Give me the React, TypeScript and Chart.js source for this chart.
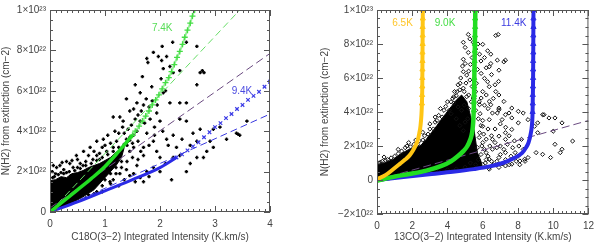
import React, { useEffect, useRef } from 'react';
import { Chart, registerables } from 'chart.js';
Chart.register(...registerables);

type P = [number, number];

// ---------- LEFT PANEL (C18O) : x in K.km/s, y in 1e22 cm-2 ----------
const leftXTicks = [0, 1, 2, 3, 4];
const leftYTicks = [0, 2, 4, 6, 8, 10];
const leftBlob: P[] = [
  [0, 0], [0, 1.55], [0.1, 1.6], [0.2, 1.75], [0.3, 1.7], [0.4, 1.9], [0.5, 1.95], [0.6, 2.05],
  [0.7, 2.2], [0.8, 2.3], [0.9, 2.4], [1.0, 2.55], [1.1, 2.7], [1.2, 2.95], [1.3, 3.1], [1.35, 3.2],
  [1.3, 2.7], [1.2, 2.3], [1.0, 1.7], [0.8, 1.1], [0.6, 0.75], [0.4, 0.45], [0.2, 0.2], [0, 0],
];
const leftScatter: P[] = [
  [2.04, 8.2], [2.23, 8.4], [2.48, 8.4], [2.67, 8.2], [1.88, 7.9], [1.76, 7.6], [1.78, 7.4], [1.97, 7.7],
  [2.03, 7.5], [2.12, 7.7], [2.18, 7.2], [2.06, 7.1], [2.24, 6.9], [2.36, 7.0], [2.73, 6.9], [2.77, 7.0],
  [2.8, 6.9], [2.67, 6.3], [1.55, 6.3], [1.64, 5.9], [1.39, 5.6], [1.85, 6.2], [2.06, 5.9], [2.18, 5.4],
  [2.36, 5.4], [2.48, 5.4], [1.7, 5.3], [1.94, 4.9], [1.52, 5.1], [1.15, 4.7], [1.27, 4.7], [1.33, 4.5],
  [1.64, 4.5], [1.82, 4.6], [2.0, 4.5], [2.36, 4.6], [2.48, 4.5], [2.73, 4.1], [2.97, 4.1], [3.09, 4.2],
  [3.45, 3.8], [3.58, 4.5], [3.21, 3.6], [2.91, 3.5], [2.67, 3.5], [2.24, 3.8], [2.12, 3.6], [1.88, 3.5],
  [1.76, 3.9], [1.52, 3.8], [1.39, 3.6], [1.21, 3.5], [0.97, 3.6], [0.85, 3.5], [0.73, 3.2], [0.61, 3.0],
  [0.48, 2.8], [0.3, 2.5], [0.18, 2.3], [0.06, 2.3], [0.12, 2.2], [1.03, 3.0], [0.85, 2.8], [1.15, 3.2],
  [1.52, 3.2], [1.7, 3.2], [1.94, 3.0], [2.0, 2.7], [2.24, 2.7], [2.36, 2.8], [2.55, 2.4], [2.48, 2.0],
  [2.21, 1.6], [1.7, 1.5], [1.88, 2.2], [1.58, 2.3], [1.39, 2.1], [1.27, 1.9], [1.15, 1.6], [1.09, 1.5],
  [1.52, 1.9], [1.64, 1.7], [1.76, 2.0], [2.97, 3.2], [3.39, 3.9], [3.42, 3.85], [2.85, 3.0], [2.79, 2.7],
  [2.67, 2.7], [1.35, 3.9], [1.42, 4.1], [1.45, 3.7], [1.48, 4.3], [1.55, 4.6], [1.58, 4.0], [1.6, 4.8],
  [1.66, 5.0], [1.72, 4.4], [1.75, 5.6], [1.8, 5.2], [1.86, 5.5], [1.9, 4.2], [1.95, 5.3], [2.02, 6.6],
  [2.1, 6.0], [1.68, 6.7], [1.58, 5.4], [1.45, 5.0], [1.32, 4.2], [1.25, 3.9], [1.18, 4.0], [1.1, 3.4],
  [1.05, 3.8], [0.95, 3.2], [0.9, 2.9], [0.78, 2.6], [0.7, 2.8], [0.65, 2.5], [0.55, 2.4], [0.42, 2.2],
  [0.36, 2.4], [0.25, 2.1], [0.2, 1.95], [0.1, 1.9], [0.04, 2.0], [1.4, 3.3], [1.45, 3.0], [1.6, 3.5],
  [1.65, 3.0], [1.8, 3.3], [1.9, 3.8], [2.05, 4.0], [2.15, 3.3], [2.3, 3.2], [2.4, 3.6], [2.6, 3.9],
  [2.55, 3.3], [1.3, 2.5], [1.2, 2.2], [1.1, 1.9], [1.0, 1.6], [0.95, 1.3], [1.35, 1.6], [1.45, 1.8],
  [1.55, 1.5], [1.8, 1.75], [2.0, 2.0], [2.1, 2.4], [1.25, 1.3], [0.85, 1.0], [0.7, 0.85], [0.9, 1.6],
  [0.75, 1.3], [0.5, 2.6], [0.8, 3.0], [1.0, 3.3], [0.22, 2.45], [0.4, 2.55],
  [0.05, 1.7], [0.15, 1.85], [0.25, 1.9], [0.35, 2.0], [0.45, 2.05], [0.55, 2.15], [0.65, 2.3], [0.75, 2.4],
  [0.85, 2.55], [0.95, 2.7], [1.05, 2.85], [1.15, 3.0], [1.25, 3.2], [1.35, 3.35], [0.08, 1.75], [0.3, 1.95],
  [0.5, 2.2], [0.6, 2.3], [0.9, 2.6], [1.2, 2.8], [1.4, 3.45], [1.45, 3.55], [1.5, 3.4], [1.3, 2.2],
  [1.2, 1.9], [1.1, 1.4], [0.95, 1.0], [0.8, 0.9], [0.65, 0.7], [1.4, 2.5], [1.5, 2.7], [1.6, 2.6],
  [1.7, 2.8], [1.02, 2.35], [0.62, 1.9], [0.38, 1.8], [1.12, 2.45],
];
const leftGreenDense: P[] = [[0, 0], [0.25, 0.55], [0.5, 1.1], [0.75, 1.65], [1.0, 2.25], [1.25, 3.0], [1.5, 3.8]];
const leftGreenMarks: P[] = [
  [1.5, 3.8], [1.55, 4.0], [1.62, 4.25], [1.68, 4.5], [1.74, 4.75], [1.8, 5.0], [1.86, 5.3], [1.92, 5.55],
  [1.98, 5.8], [2.04, 6.1], [2.1, 6.4], [2.16, 6.65], [2.21, 6.95], [2.26, 7.3], [2.31, 7.65], [2.36, 7.95],
  [2.41, 8.3], [2.45, 8.65], [2.5, 9.0], [2.55, 9.35], [2.59, 9.7], [2.63, 10.0],
];
const leftGreenDashed: P[] = [[0, 0], [3.45, 10]];
const leftPurpleDashed: P[] = [[0, 0.2], [4, 7.85]];
const leftBlueDense: P[] = [[0, 0], [0.5, 0.5], [1.0, 1.05], [1.5, 1.6], [2.0, 2.2], [2.3, 2.7]];
const leftBlueMarks: P[] = [
  [2.3, 2.7], [2.4, 2.85], [2.5, 3.05], [2.6, 3.25], [2.7, 3.45], [2.8, 3.7], [2.9, 3.95], [3.0, 4.2],
  [3.1, 4.4], [3.2, 4.65], [3.3, 4.85], [3.4, 5.1], [3.5, 5.3], [3.6, 5.55], [3.7, 5.75], [3.8, 5.95],
  [3.9, 6.2], [4.0, 6.45],
];
const leftBlueDashed: P[] = [[0, -0.05], [4, 4.85]];

// ---------- RIGHT PANEL (13CO) ----------
const rightXTicks = [0, 2, 4, 6, 8, 10, 12];
const rightYTicks = [-2, 0, 2, 4, 6, 8, 10];
const rightBlob: P[] = [
  [0, -0.1], [0, 0.9], [0.4, 1.0], [0.9, 1.2], [1.3, 1.5], [1.8, 1.8], [2.2, 1.9], [2.5, 2.05], [2.8, 2.4],
  [3.1, 2.8], [3.4, 3.2], [3.6, 3.5], [3.9, 3.9], [4.2, 4.3], [4.5, 4.7], [4.8, 5.0], [5.1, 4.6], [5.3, 3.8],
  [5.5, 3.0], [5.6, 2.3], [5.7, 1.6], [5.9, 1.1], [6.0, 0.7], [5.5, 0.6], [4.5, 0.5], [3.0, 0.33],
  [1.5, 0.15], [0, -0.1],
];
const rightScatter: P[] = [
  [5.18, 8.56], [5.27, 8.3], [6.74, 8.5], [6.88, 8.56], [4.9, 8.1], [5.46, 8.1], [5.73, 8.0], [6.0, 7.98],
  [5.0, 7.8], [5.18, 7.5], [6.28, 7.6], [6.46, 7.4], [5.82, 7.4], [6.1, 7.2], [4.9, 7.1], [5.0, 6.85],
  [6.46, 6.85], [6.83, 7.05], [7.2, 6.95], [7.29, 7.05], [6.37, 6.66], [6.92, 6.46], [4.9, 6.37], [5.09, 6.17],
  [5.91, 6.27], [6.1, 5.98], [6.28, 5.78], [5.27, 5.88], [4.72, 5.69], [5.64, 5.69], [6.37, 5.49], [6.74, 5.2],
  [6.92, 5.0], [4.9, 5.4], [4.54, 5.2], [4.36, 4.9], [5.09, 4.9], [5.46, 4.82], [5.91, 4.82], [6.37, 4.62],
  [7.2, 4.62], [4.36, 4.52], [3.9, 4.33], [5.82, 4.43], [6.46, 4.43], [6.92, 4.23], [7.65, 4.23], [8.02, 4.04],
  [6.83, 3.94], [7.29, 3.84], [9.4, 3.84], [9.76, 3.65], [9.48, 3.84], [10.1, 3.65], [10.5, 3.36], [9.12, 3.36],
  [8.94, 3.16], [8.02, 3.36], [7.65, 2.97], [7.29, 2.78], [6.92, 2.58], [6.55, 2.39], [7.29, 2.39], [8.2, 2.39],
  [9.12, 2.78], [10.0, 2.87], [11.1, 2.29], [10.1, 2.1], [10.5, 1.81], [10.4, 1.61], [9.85, 1.32], [9.4, 1.51],
  [9.03, 1.61], [8.57, 1.32], [8.11, 1.12], [8.38, 1.22], [7.65, 0.93], [7.29, 0.83], [6.92, 0.74], [6.37, 0.64],
  [6.19, 1.61], [6.55, 1.81], [6.0, 2.2], [5.82, 2.78], [6.0, 3.16], [6.37, 3.55], [6.55, 3.94], [6.92, 4.13],
  [7.49, 3.94], [7.1, 3.55], [7.65, 3.65], [8.3, 3.94], [8.57, 3.55], [7.84, 1.61], [7.29, 1.61], [6.92, 1.32],
  [6.37, 1.22], [4.0, 4.6], [3.8, 4.1], [4.4, 5.2], [4.6, 5.6], [4.75, 6.0], [4.3, 4.8], [3.5, 3.8],
  [3.3, 3.4], [3.0, 3.0], [2.7, 2.6], [2.4, 2.3], [2.1, 2.1], [1.7, 2.0], [1.4, 1.7], [1.0, 1.4],
  [0.6, 1.2], [0.3, 1.1], [0.1, 1.0], [4.95, 5.2], [5.05, 5.7], [5.2, 5.0], [5.35, 4.6], [5.6, 4.1],
  [5.75, 3.6], [5.9, 3.2], [6.05, 2.7], [6.2, 2.4], [5.95, 2.0], [6.1, 1.8], [6.3, 1.4], [6.5, 1.1],
  [6.15, 1.0], [5.85, 3.9], [6.1, 4.4], [5.6, 5.2], [5.7, 6.5], [5.3, 6.8], [4.95, 4.4], [5.15, 3.6],
  [6.7, 3.0], [7.0, 3.3], [7.3, 3.1], [7.5, 2.6], [7.8, 2.3], [8.05, 2.0], [6.8, 1.9], [7.0, 1.5],
  [7.3, 1.2], [7.6, 1.4], [8.0, 1.4], [8.3, 1.8], [6.6, 0.9], [7.1, 0.95], [6.4, 0.75],
  [4.5, 3.6], [4.7, 3.2], [4.9, 2.9], [5.0, 3.4], [4.8, 4.1], [5.2, 4.2], [5.4, 5.5], [5.5, 4.8],
  [5.8, 4.6], [6.0, 5.2], [6.2, 5.0], [6.3, 4.2], [6.6, 4.8], [6.7, 5.6], [6.9, 5.8], [6.5, 6.2],
  [6.2, 6.6], [5.9, 7.0], [5.6, 7.7], [5.4, 7.2], [5.2, 6.4], [4.85, 6.7], [4.6, 4.3], [4.2, 3.9],
  [5.9, 1.5], [5.7, 1.9], [5.8, 2.5], [6.0, 3.5], [6.3, 3.0], [6.5, 2.6], [6.4, 2.0], [6.7, 2.2],
  [7.0, 2.0], [7.2, 1.8], [7.4, 2.1], [7.7, 1.9], [7.9, 1.1], [8.1, 0.9], [8.4, 1.1], [6.8, 1.1],
  [6.2, 1.2], [6.0, 0.9], [7.5, 0.9], [5.75, 1.2], [5.6, 0.9], [4.0, 0.6], [4.5, 0.65], [5.0, 0.75],
  [3.5, 0.5], [5.3, 1.0], [0.2, 1.05], [0.5, 1.15], [0.8, 1.3], [1.2, 1.55], [1.6, 1.9], [1.9, 1.95],
  [2.3, 2.1], [2.6, 2.35], [2.9, 2.7], [3.2, 3.0], [3.4, 3.5], [3.7, 3.7], [4.1, 4.1], [4.2, 4.6],
  [4.5, 4.95], [4.7, 5.3], [3.6, 4.2], [3.3, 3.7], [3.0, 3.3], [2.6, 2.8], [2.2, 2.35], [1.8, 2.2],
  [1.2, 1.8], [0.4, 1.35],
];
const rightYellow: P[] = [
  [0, 0.05], [0.5, 0.3], [0.9, 0.62], [1.3, 0.95], [1.6, 1.2], [1.85, 1.45], [2.05, 1.75], [2.2, 2.05],
  [2.3, 2.3], [2.4, 2.75], [2.47, 3.2], [2.52, 3.8], [2.55, 4.5], [2.57, 5.5], [2.58, 7], [2.59, 8.5], [2.6, 10],
];
const rightYellowMarks: P[] = [
  [2.55, 4.5], [2.56, 5.0], [2.57, 5.5], [2.57, 6.0], [2.58, 6.5], [2.58, 7.0], [2.58, 7.5], [2.59, 8.0],
  [2.59, 8.5], [2.59, 9.0], [2.6, 9.5], [2.6, 10],
];
const rightGreen: P[] = [
  [0, -0.05], [1.0, 0.2], [1.83, 0.35], [2.8, 0.55], [3.66, 0.83], [4.2, 1.1], [4.58, 1.4], [4.9, 1.7],
  [5.13, 2.0], [5.3, 2.4], [5.4, 2.8], [5.46, 3.4], [5.49, 4.1], [5.51, 5.0], [5.53, 6.5], [5.55, 7.6],
  [5.57, 9], [5.58, 10],
];
const rightGreenMarks: P[] = [
  [5.49, 4.1], [5.5, 4.6], [5.51, 5.0], [5.52, 5.5], [5.52, 6.0], [5.53, 6.5], [5.54, 7.0], [5.55, 7.6],
  [5.56, 8.0], [5.56, 8.5], [5.57, 9.0], [5.57, 9.5], [5.58, 10],
];
const rightBlue: P[] = [
  [0, 0], [1.5, 0.17], [3.11, 0.35], [4.3, 0.48], [5.49, 0.64], [6.4, 0.8], [7.14, 1.0], [7.7, 1.25],
  [8.24, 1.6], [8.45, 1.9], [8.6, 2.2], [8.72, 2.7], [8.79, 3.2], [8.83, 4.0], [8.84, 4.7], [8.86, 6],
  [8.87, 8], [8.88, 10],
];
const rightBlueMarks: P[] = [
  [8.83, 4.0], [8.84, 4.5], [8.84, 5.0], [8.85, 5.5], [8.86, 6.0], [8.86, 6.5], [8.86, 7.0], [8.87, 7.5],
  [8.87, 8.0], [8.87, 8.5], [8.88, 9.0], [8.88, 9.5], [8.88, 10],
];
const rightPurpleDashed: P[] = [[0, 0], [12, 3.5]];

const leftLabels = [
  { text: '7.4K', x: 2.04, y: 9.1, color: '#55dd55' },
  { text: '9.4K', x: 3.49, y: 6.0, color: '#4a4ae0' },
];
const rightLabels = [
  { text: '6.5K', x: 1.45, y: 9.2, color: '#ffc62a' },
  { text: '9.0K', x: 3.86, y: 9.2, color: '#44dd44' },
  { text: '11.4K', x: 7.76, y: 9.2, color: '#3a3ae0' },
];

const xy = (a: P[]) => a.map(([x, y]) => ({ x, y }));
const FONT = "'Liberation Sans', Arial, sans-serif";
const TXT = '#444';

const yLabel = (v: number) => {
  if (v === 0) return '0';
  if (v === 10) return '1×10²³';
  return (v < 0 ? '−' + Math.abs(v) : String(v)) + '×10²²';
};

const framePlugin = {
  id: 'frame',
  afterDatasetsDraw(chart: any, _args: any, opts: any) {
    const { ctx, chartArea: a, scales } = chart;
    const xs = scales.x, ys = scales.y;
    ctx.save();
    ctx.strokeStyle = '#555';
    ctx.lineWidth = 1;
    ctx.strokeRect(a.left + 0.5, a.top + 0.5, a.right - a.left - 1, a.bottom - a.top - 1);
    const line = (x1: number, y1: number, x2: number, y2: number) => {
      ctx.beginPath(); ctx.moveTo(x1, y1); ctx.lineTo(x2, y2); ctx.stroke();
    };
    const xStep = opts.xMajor / opts.xMinor;
    const nx = Math.round((xs.max - xs.min) / xStep);
    for (let i = 0; i <= nx; i++) {
      const px = Math.round(xs.getPixelForValue(xs.min + i * xStep)) + 0.5;
      const len = i % opts.xMinor === 0 ? 6 : 3;
      line(px, a.bottom, px, a.bottom - len);
      line(px, a.top, px, a.top + len);
    }
    const yStep = opts.yMajor / opts.yMinor;
    const ny = Math.round((ys.max - ys.min) / yStep);
    for (let i = 0; i <= ny; i++) {
      const py = Math.round(ys.getPixelForValue(ys.min + i * yStep)) + 0.5;
      const len = i % opts.yMinor === 0 ? 6 : 3;
      line(a.left, py, a.left + len, py);
      line(a.right, py, a.right - len, py);
    }
    ctx.font = `10px ${FONT}`;
    ctx.textAlign = 'center';
    ctx.textBaseline = 'middle';
    for (const t of opts.labels) {
      ctx.fillStyle = t.color;
      ctx.fillText(t.text, xs.getPixelForValue(t.x), ys.getPixelForValue(t.y));
    }
    ctx.restore();
  },
};

function makeConfig(p: any) {
  return {
    type: 'scatter',
    data: { datasets: p.datasets },
    options: {
      responsive: false,
      animation: false,
      events: [],
      layout: { padding: p.padding },
      plugins: {
        legend: { display: false },
        tooltip: { enabled: false },
        frame: { xMajor: p.xMajor, xMinor: p.xMinor, yMajor: p.yMajor, yMinor: p.yMinor, labels: p.labels },
      },
      scales: {
        x: {
          type: 'linear', min: p.xTicks[0], max: p.xTicks[p.xTicks.length - 1],
          afterFit: (s: any) => { s.height = p.xHeight; },
          afterBuildTicks: (s: any) => { s.ticks = p.xTicks.map((v: number) => ({ value: v })); },
          grid: { display: false, drawTicks: false },
          border: { display: false },
          ticks: { padding: 6, color: TXT, font: { family: FONT, size: 10 }, maxRotation: 0, callback: (v: number) => String(v) },
          title: { display: true, text: p.xTitle, color: TXT, font: { family: FONT, size: 10 }, padding: 0 },
        },
        y: {
          type: 'linear', min: p.yTicks[0], max: p.yTicks[p.yTicks.length - 1],
          afterFit: (s: any) => { s.width = p.yWidth; },
          afterBuildTicks: (s: any) => { s.ticks = p.yTicks.map((v: number) => ({ value: v })); },
          grid: { display: false, drawTicks: false },
          border: { display: false },
          ticks: { padding: 4, color: TXT, font: { family: FONT, size: 10 }, callback: (v: number) => yLabel(v) },
          title: { display: true, text: 'N(H2) from extinction (cm−2)', color: TXT, font: { family: FONT, size: 10 }, padding: 0 },
        },
      },
    },
    plugins: [framePlugin],
  };
}

const lineDS = (data: P[], color: string, width: number, order: number, dash: number[] = []) => ({
  data: xy(data), showLine: true, borderColor: color, borderWidth: width, borderDash: dash,
  pointRadius: 0, fill: false, order, tension: 0.3, cubicInterpolationMode: 'monotone',
});
const markDS = (data: P[], color: string, style: string, r: number, order: number, lw = 1) => ({
  data: xy(data), showLine: false, pointStyle: style, pointRadius: r, pointBorderWidth: lw,
  borderColor: color, backgroundColor: 'rgba(0,0,0,0)', pointBackgroundColor: 'rgba(0,0,0,0)', order,
});
const blobDS = (data: P[]) => ({
  data: xy(data), showLine: true, borderColor: '#000', borderWidth: 1, backgroundColor: '#000',
  pointRadius: 0, fill: 'shape', order: 20,
});

const leftParams = {
  padding: { left: 0, right: 30, top: 5, bottom: 0 },
  yWidth: 50, xHeight: 31,
  xTicks: leftXTicks, yTicks: leftYTicks, xMajor: 1, xMinor: 10, yMajor: 2, yMinor: 4,
  xTitle: 'C18O(3−2) Integrated Intensity (K.km/s)',
  labels: leftLabels,
  datasets: [
    lineDS(leftGreenDense, '#22dd22', 3.5, 1),
    markDS(leftGreenMarks, '#44dd44', 'cross', 3, 2, 1.3),
    lineDS(leftGreenMarks, 'rgba(90,230,90,0.6)', 2, 3),
    lineDS(leftGreenDashed, '#66dd66', 1, 4, [7, 4]),
    lineDS(leftPurpleDashed, '#6a4a80', 1, 4, [8, 4]),
    lineDS(leftBlueDense, '#2a2ae6', 3, 1),
    markDS(leftBlueMarks, '#3a3ae6', 'crossRot', 2.5, 2, 1.2),
    lineDS(leftBlueDashed, '#3a3ae0', 1, 4, [7, 4]),
    markDS(leftScatter, '#000', 'cross', 1.7, 10, 1.6),
    blobDS(leftBlob),
  ],
};

const rightParams = {
  padding: { left: 19, right: 5, top: 9, bottom: 0 },
  yWidth: 58, xHeight: 29,
  xTicks: rightXTicks, yTicks: rightYTicks, xMajor: 2, xMinor: 8, yMajor: 2, yMinor: 4,
  xTitle: '13CO(3−2) Integrated Intensity (K.km/s)',
  labels: rightLabels,
  datasets: [
    lineDS(rightYellow, '#ffc514', 4, 1),
    markDS(rightYellowMarks, '#ffc514', 'triangle', 3, 1, 1),
    lineDS(rightGreen, '#22dd22', 4.5, 1),
    markDS(rightGreenMarks, '#22dd22', 'triangle', 3, 1, 1),
    lineDS(rightBlue, '#2a2ae6', 4, 1),
    markDS(rightBlueMarks, '#2a2ae6', 'triangle', 3, 1, 1),
    lineDS(rightPurpleDashed, '#6a4a80', 1, 4, [8, 4]),
    markDS(rightScatter, '#111', 'rectRot', 2.1, 10, 1),
    blobDS(rightBlob),
  ],
};

function Panel({ params }: { params: any }) {
  const ref = useRef<HTMLCanvasElement>(null);
  useEffect(() => {
    const chart = new Chart(ref.current as HTMLCanvasElement, makeConfig(params) as any);
    return () => chart.destroy();
  }, []);
  return <canvas ref={ref} width={300} height={243} style={{ display: 'block', width: 300, height: 243 }} />;
}

export default function App() {
  return (
    <div style={{ position: 'absolute', left: 0, top: 0, width: 600, height: 243, display: 'flex', background: '#fff' }}>
      <Panel params={leftParams} />
      <Panel params={rightParams} />
    </div>
  );
}
